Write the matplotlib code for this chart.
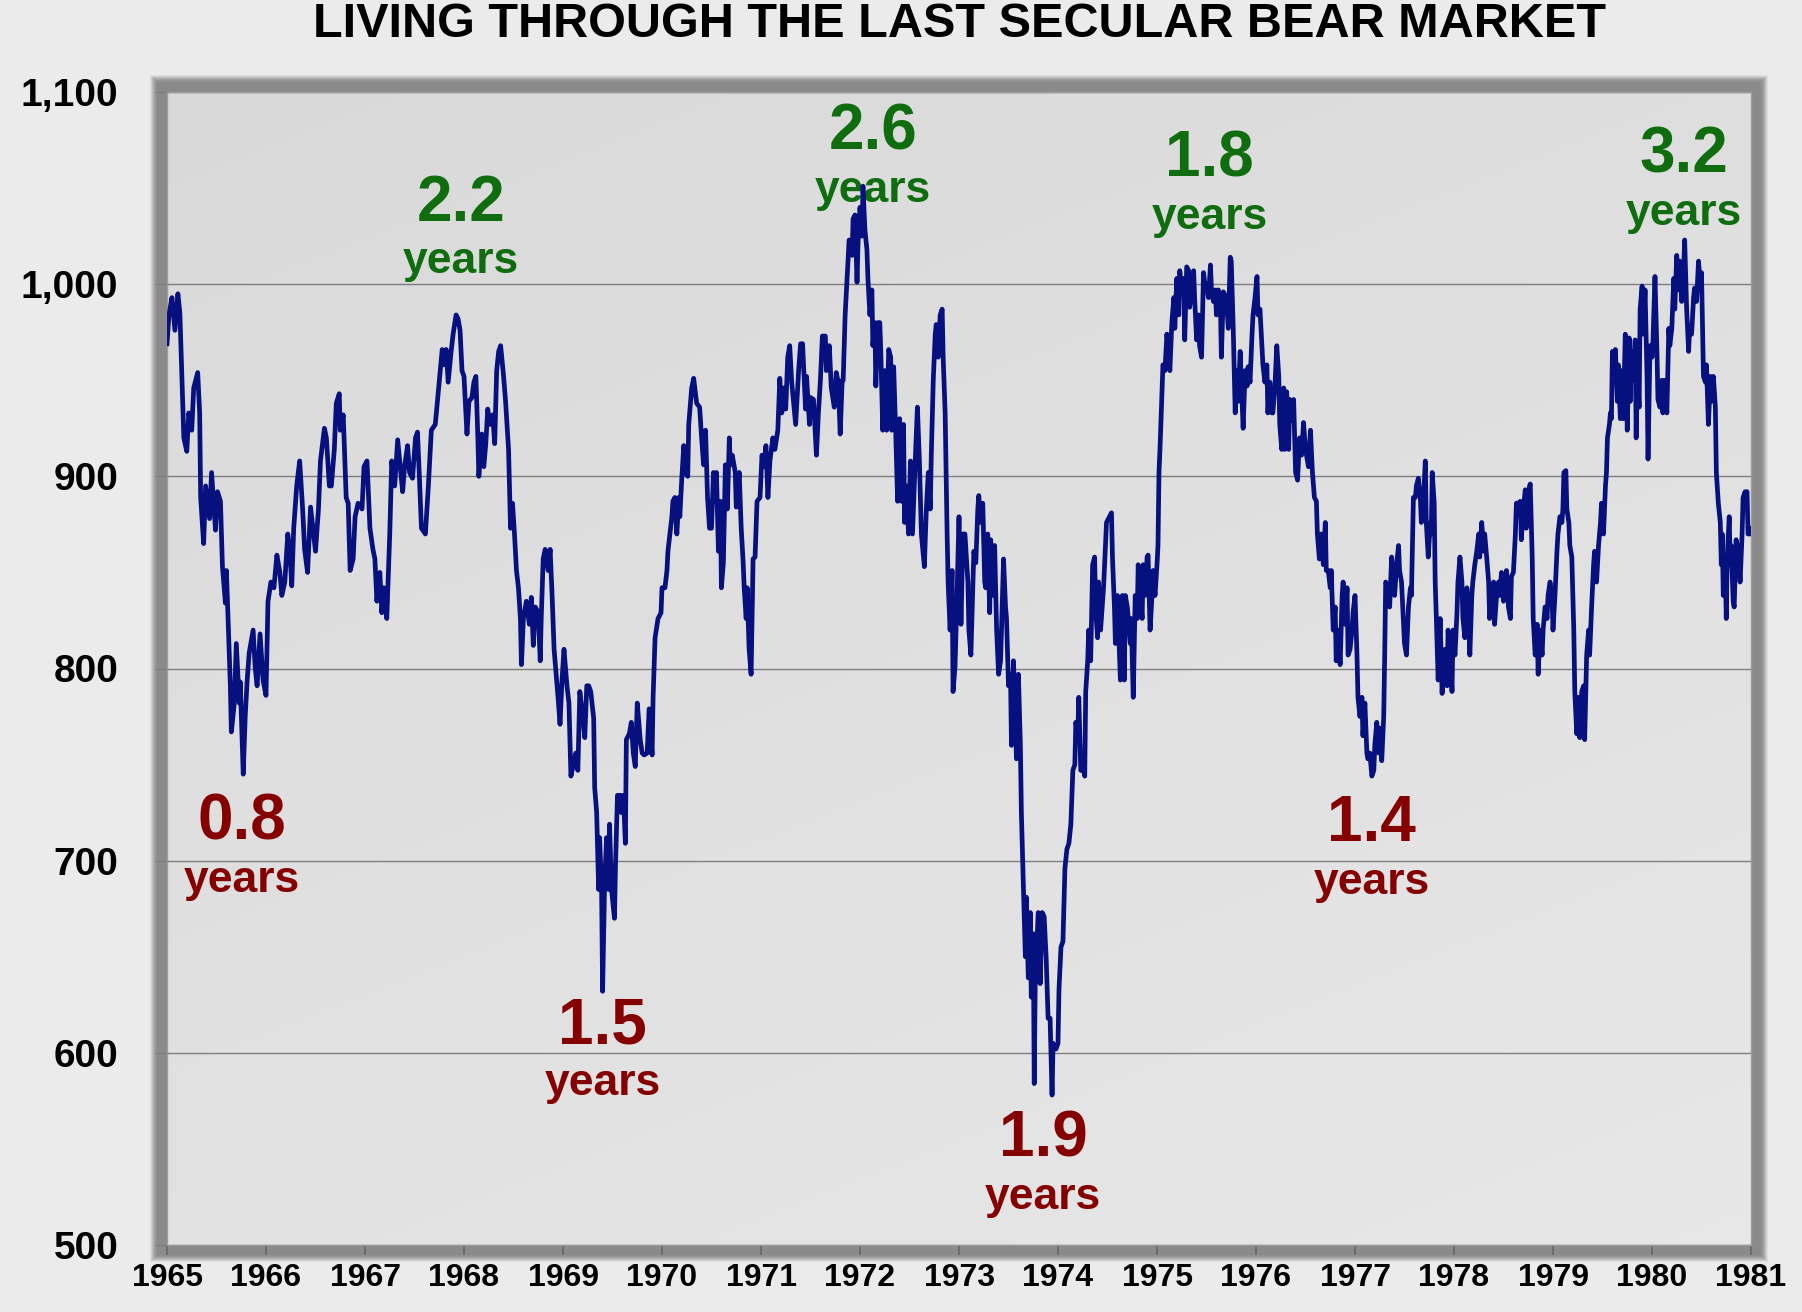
import matplotlib
matplotlib.use("Agg")
import matplotlib.pyplot as plt
import numpy as np
from matplotlib.patches import Rectangle
from matplotlib import font_manager
from matplotlib.ticker import FuncFormatter, FixedLocator

# ---------------- data ----------------
title = "LIVING THROUGH THE LAST SECULAR BEAR MARKET"
year_ticks = list(range(1965, 1982))
value_ticks = [500, 600, 700, 800, 900, 1000, 1100]

t_a = [1965.00, 1965.02, 1965.05, 1965.08, 1965.11, 1965.13, 1965.15, 1965.17, 1965.20, 1965.22,
       1965.25, 1965.27, 1965.31, 1965.33, 1965.34, 1965.37, 1965.39, 1965.43, 1965.45, 1965.49,
       1965.51, 1965.54, 1965.56, 1965.59, 1965.60, 1965.64, 1965.65, 1965.68, 1965.70, 1965.73,
       1965.74, 1965.77, 1965.79, 1965.81, 1965.83, 1965.87, 1965.89, 1965.91, 1965.94, 1965.97,
       1966.00, 1966.02, 1966.05, 1966.08, 1966.11, 1966.14, 1966.16, 1966.19, 1966.22, 1966.24,
       1966.26, 1966.28, 1966.31, 1966.34, 1966.37, 1966.39, 1966.42, 1966.45, 1966.47, 1966.50,
       1966.53, 1966.55, 1966.59, 1966.61, 1966.64, 1966.66, 1966.69, 1966.71, 1966.74, 1966.75,
       1966.78, 1966.81, 1966.83, 1966.85, 1966.88, 1966.90, 1966.93, 1966.97, 1966.99, 1967.02,
       1967.05, 1967.08, 1967.10, 1967.12, 1967.15, 1967.17, 1967.19, 1967.22, 1967.25, 1967.27,
       1967.30, 1967.33, 1967.35, 1967.38, 1967.40, 1967.43, 1967.45, 1967.48, 1967.51, 1967.53,
       1967.55, 1967.57, 1967.61]
v_a = [969, 984, 993, 976, 995, 985, 952, 920, 913, 933,
       924, 946, 954, 933, 889, 865, 895, 878, 902, 872,
       892, 887, 853, 834, 851, 791, 767, 782, 813, 782,
       793, 745, 775, 794, 808, 820, 801, 791, 818, 794,
       786, 835, 845, 842, 859, 850, 838, 845, 870, 862,
       843, 873, 895, 908, 883, 862, 850, 884, 875, 861,
       883, 908, 925, 920, 895, 895, 914, 938, 943, 924,
       932, 889, 886, 851, 857, 879, 886, 883, 905, 908,
       873, 862, 857, 835, 850, 829, 842, 826, 870, 908,
       895, 919, 908, 892, 905, 916, 902, 899, 920, 923,
       899, 873, 870]

t_b = [1967.64, 1967.67, 1967.71, 1967.73, 1967.76, 1967.78, 1967.80, 1967.82, 1967.84, 1967.87,
       1967.89, 1967.92, 1967.94, 1967.96, 1967.98, 1968.00, 1968.03, 1968.05, 1968.08, 1968.10,
       1968.12, 1968.14, 1968.15, 1968.18, 1968.20, 1968.22, 1968.24, 1968.26, 1968.29, 1968.31,
       1968.33, 1968.35, 1968.37, 1968.40, 1968.42, 1968.45, 1968.46, 1968.47, 1968.49, 1968.51,
       1968.53, 1968.55, 1968.57, 1968.58, 1968.60, 1968.63, 1968.66, 1968.68, 1968.70, 1968.72,
       1968.75, 1968.77, 1968.78, 1968.80, 1968.82, 1968.85, 1968.87, 1968.89, 1968.91, 1968.94,
       1968.95, 1968.97, 1968.99, 1969.01, 1969.04, 1969.06, 1969.08, 1969.10, 1969.13, 1969.15,
       1969.17, 1969.20, 1969.22, 1969.24, 1969.26, 1969.28, 1969.31, 1969.32, 1969.34, 1969.36,
       1969.37, 1969.39, 1969.40, 1969.42, 1969.44, 1969.46, 1969.47, 1969.49, 1969.52, 1969.53,
       1969.55, 1969.58, 1969.59, 1969.61, 1969.63, 1969.64, 1969.67, 1969.69, 1969.71, 1969.73,
       1969.75, 1969.78, 1969.80, 1969.82, 1969.85, 1969.87, 1969.90, 1969.91, 1969.93, 1969.96,
       1969.99, 1970.00, 1970.03, 1970.05, 1970.06, 1970.08, 1970.10, 1970.11, 1970.13, 1970.15,
       1970.17, 1970.18, 1970.20, 1970.22, 1970.23, 1970.26, 1970.27]
v_b = [895, 924, 927, 938, 955, 966, 958, 966, 949, 965,
       974, 984, 982, 976, 955, 952, 922, 939, 941, 949,
       952, 920, 900, 922, 905, 917, 935, 927, 932, 917,
       955, 965, 968, 952, 939, 914, 894, 873, 886, 870,
       851, 842, 826, 802, 826, 835, 823, 837, 812, 832,
       829, 804, 826, 857, 862, 851, 862, 838, 810, 791,
       785, 771, 794, 810, 791, 782, 744, 749, 756, 747,
       788, 775, 764, 791, 791, 788, 774, 738, 725, 685,
       712, 684, 632, 687, 712, 685, 719, 685, 670, 697,
       734, 734, 725, 734, 709, 763, 766, 772, 756, 749,
       782, 763, 756, 755, 756, 779, 755, 785, 816, 826,
       829, 842, 842, 851, 861, 870, 879, 887, 889, 870,
       889, 879, 899, 916, 902, 900, 927]

t_c = [1970.30, 1970.32, 1970.35, 1970.38, 1970.40, 1970.42, 1970.44, 1970.46, 1970.48, 1970.50,
       1970.52, 1970.54, 1970.55, 1970.57, 1970.59, 1970.60, 1970.62, 1970.64, 1970.66, 1970.68,
       1970.69, 1970.71, 1970.74, 1970.75, 1970.78, 1970.80, 1970.82, 1970.83, 1970.85, 1970.86,
       1970.88, 1970.90, 1970.92, 1970.94, 1970.96, 1970.99, 1971.01, 1971.03, 1971.05, 1971.07,
       1971.09, 1971.12, 1971.14, 1971.17, 1971.19, 1971.21, 1971.23, 1971.25, 1971.27, 1971.29,
       1971.31, 1971.33, 1971.35, 1971.38, 1971.40, 1971.42, 1971.45, 1971.46, 1971.49, 1971.50,
       1971.53, 1971.56, 1971.58, 1971.60, 1971.62, 1971.65, 1971.66, 1971.69, 1971.71, 1971.74,
       1971.76, 1971.78, 1971.80, 1971.82, 1971.83, 1971.85, 1971.87, 1971.89, 1971.92, 1971.93,
       1971.95, 1971.97, 1971.98, 1972.00, 1972.02, 1972.03, 1972.05, 1972.07, 1972.08, 1972.10,
       1972.12, 1972.13, 1972.15, 1972.16, 1972.18, 1972.20, 1972.21, 1972.23, 1972.25, 1972.27,
       1972.29, 1972.31, 1972.32, 1972.34, 1972.36, 1972.38, 1972.40, 1972.42, 1972.44, 1972.45,
       1972.47, 1972.49, 1972.51, 1972.53, 1972.56, 1972.58, 1972.60, 1972.62, 1972.65, 1972.67,
       1972.69, 1972.71, 1972.72, 1972.74, 1972.76, 1972.77, 1972.79, 1972.81, 1972.83, 1972.84,
       1972.86, 1972.88, 1972.89, 1972.91, 1972.93, 1972.94]
v_c = [946, 951, 938, 936, 920, 906, 924, 889, 873, 873,
       902, 887, 902, 861, 887, 842, 855, 906, 883, 920,
       906, 911, 902, 884, 902, 873, 855, 842, 826, 842,
       810, 797, 857, 858, 887, 889, 911, 905, 916, 889,
       908, 920, 914, 924, 951, 933, 946, 935, 962, 968,
       949, 938, 927, 955, 969, 969, 935, 952, 927, 941,
       940, 911, 933, 950, 973, 973, 955, 968, 946, 936,
       954, 949, 922, 950, 950, 984, 1003, 1023, 1015, 1034,
       1036, 1001, 1021, 1040, 1025, 1051, 1028, 1018, 1003, 984,
       997, 968, 980, 947, 980, 980, 965, 924, 955, 924,
       966, 962, 924, 957, 924, 887, 930, 887, 927, 876,
       895, 870, 908, 870, 911, 936, 908, 870, 853, 883,
       902, 883, 911, 950, 974, 979, 962, 984, 987, 962,
       933, 870, 845, 820, 851, 788]

t_d = [1972.96, 1972.98, 1973.00, 1973.02, 1973.04, 1973.06, 1973.09, 1973.10, 1973.12, 1973.15,
       1973.17, 1973.19, 1973.20, 1973.22, 1973.24, 1973.26, 1973.27, 1973.29, 1973.31, 1973.32,
       1973.35, 1973.36, 1973.38, 1973.40, 1973.42, 1973.45, 1973.47, 1973.48, 1973.50, 1973.52,
       1973.53, 1973.55, 1973.57, 1973.58, 1973.60, 1973.62, 1973.63, 1973.65, 1973.67, 1973.68,
       1973.70, 1973.72, 1973.73, 1973.75, 1973.76, 1973.77, 1973.80, 1973.82, 1973.84, 1973.86,
       1973.88, 1973.90, 1973.92, 1973.94, 1973.95, 1973.98, 1974.00, 1974.01, 1974.03, 1974.05,
       1974.07, 1974.09, 1974.11, 1974.13, 1974.15, 1974.17, 1974.18, 1974.20, 1974.21, 1974.23,
       1974.26, 1974.27, 1974.28, 1974.30, 1974.31, 1974.33, 1974.35, 1974.37, 1974.38, 1974.40,
       1974.41, 1974.43, 1974.46, 1974.48, 1974.49, 1974.52, 1974.54, 1974.55, 1974.57, 1974.58,
       1974.60, 1974.63, 1974.65, 1974.67, 1974.68, 1974.70, 1974.73, 1974.74, 1974.76, 1974.78,
       1974.80, 1974.81, 1974.83, 1974.85, 1974.86, 1974.88, 1974.90, 1974.91, 1974.93, 1974.95,
       1974.96, 1974.98, 1975.00, 1975.01, 1975.02, 1975.03, 1975.05, 1975.06, 1975.08, 1975.10,
       1975.11, 1975.13, 1975.15, 1975.17, 1975.18, 1975.20, 1975.22, 1975.23, 1975.25, 1975.27,
       1975.28, 1975.30, 1975.32, 1975.33, 1975.35, 1975.37, 1975.38, 1975.40, 1975.42, 1975.43,
       1975.45, 1975.47, 1975.49, 1975.50, 1975.52, 1975.54, 1975.55, 1975.57, 1975.59, 1975.60,
       1975.62, 1975.64]
v_d = [801, 838, 879, 823, 870, 870, 845, 820, 807, 861,
       855, 883, 890, 876, 886, 845, 842, 870, 829, 867,
       838, 864, 820, 797, 804, 857, 832, 826, 791, 797,
       760, 804, 775, 753, 797, 760, 725, 688, 650, 681,
       639, 673, 629, 662, 584, 636, 673, 636, 673, 671,
       650, 618, 618, 578, 605, 602, 605, 633, 655, 658,
       696, 706, 709, 719, 747, 750, 772, 765, 785, 747,
       747, 744, 788, 804, 820, 804, 854, 858, 830, 816,
       845, 820, 842, 864, 876, 879, 881, 858, 832, 813,
       838, 794, 838, 794, 838, 832, 813, 826, 785, 838,
       826, 854, 838, 826, 854, 838, 858, 859, 820, 838,
       851, 838, 854, 864, 902, 914, 943, 958, 955, 974,
       968, 955, 980, 993, 977, 1003, 984, 1007, 997, 1003,
       971, 1009, 1007, 988, 997, 1007, 993, 971, 984, 968,
       962, 1006, 997, 1000, 993, 1010, 997, 991, 997, 984,
       997, 991]

t_e = [1975.65, 1975.67, 1975.70, 1975.72, 1975.74, 1975.75, 1975.77, 1975.79, 1975.80, 1975.82,
       1975.84, 1975.86, 1975.87, 1975.89, 1975.91, 1975.92, 1975.94, 1975.96, 1975.97, 1975.99,
       1976.01, 1976.02, 1976.04, 1976.06, 1976.07, 1976.09, 1976.11, 1976.12, 1976.14, 1976.16,
       1976.17, 1976.19, 1976.21, 1976.23, 1976.24, 1976.26, 1976.28, 1976.29, 1976.31, 1976.33,
       1976.34, 1976.36, 1976.38, 1976.40, 1976.42, 1976.44, 1976.46, 1976.48, 1976.50, 1976.53,
       1976.55, 1976.57, 1976.59, 1976.61, 1976.62, 1976.64, 1976.66, 1976.68, 1976.70, 1976.71,
       1976.73, 1976.75, 1976.76, 1976.78, 1976.80, 1976.81, 1976.83, 1976.85, 1976.87, 1976.88,
       1976.90, 1976.92, 1976.93, 1976.95, 1976.97, 1976.98, 1977.00, 1977.02, 1977.03, 1977.05,
       1977.07, 1977.08, 1977.10, 1977.12, 1977.13, 1977.15, 1977.17, 1977.19, 1977.20, 1977.22,
       1977.24, 1977.25, 1977.27, 1977.29, 1977.30, 1977.31, 1977.34, 1977.35, 1977.37, 1977.39,
       1977.40, 1977.42, 1977.44, 1977.45, 1977.47, 1977.49, 1977.50, 1977.52, 1977.54, 1977.56,
       1977.57, 1977.59, 1977.61, 1977.62, 1977.64, 1977.66, 1977.67, 1977.69, 1977.71, 1977.72,
       1977.74, 1977.76, 1977.77, 1977.78, 1977.80, 1977.81, 1977.82, 1977.84, 1977.86, 1977.88,
       1977.89, 1977.91, 1977.93, 1977.94, 1977.96, 1977.98, 1977.99, 1978.01, 1978.03, 1978.04,
       1978.06, 1978.08, 1978.09, 1978.11, 1978.13, 1978.14, 1978.16, 1978.18, 1978.19, 1978.21,
       1978.23, 1978.25, 1978.26, 1978.28, 1978.30, 1978.31, 1978.33]
v_e = [962, 996, 993, 977, 1014, 1012, 977, 933, 955, 939,
       965, 939, 925, 955, 947, 957, 949, 974, 984, 993,
       1004, 984, 987, 968, 958, 949, 958, 933, 949, 933,
       933, 946, 968, 952, 927, 914, 946, 914, 944, 914,
       940, 929, 940, 902, 898, 920, 911, 928, 914, 905,
       924, 902, 889, 887, 870, 857, 870, 854, 876, 851,
       851, 842, 851, 820, 832, 804, 820, 802, 838, 845,
       823, 842, 807, 810, 820, 829, 838, 807, 785, 775,
       785, 765, 782, 756, 753, 756, 744, 747, 760, 772,
       756, 769, 752, 775, 807, 845, 842, 832, 858, 845,
       838, 854, 864, 851, 845, 823, 813, 807, 832, 842,
       838, 889, 889, 895, 899, 889, 876, 886, 908, 876,
       858, 876, 870, 902, 886, 845, 829, 794, 826, 787,
       801, 810, 791, 820, 807, 788, 820, 807, 829, 845,
       858, 845, 826, 816, 842, 835, 807, 838, 845, 854,
       861, 870, 858, 876, 861, 870, 858]

t_f = [1978.35, 1978.36, 1978.38, 1978.40, 1978.41, 1978.43, 1978.45, 1978.46, 1978.48, 1978.50,
       1978.52, 1978.53, 1978.55, 1978.57, 1978.58, 1978.60, 1978.62, 1978.63, 1978.65, 1978.67,
       1978.68, 1978.70, 1978.72, 1978.73, 1978.75, 1978.77, 1978.79, 1978.80, 1978.82, 1978.84,
       1978.85, 1978.87, 1978.89, 1978.90, 1978.92, 1978.94, 1978.95, 1978.97, 1978.99, 1979.00,
       1979.02, 1979.04, 1979.05, 1979.07, 1979.09, 1979.10, 1979.11, 1979.13, 1979.14, 1979.16,
       1979.17, 1979.19, 1979.21, 1979.22, 1979.24, 1979.26, 1979.27, 1979.29, 1979.31, 1979.32,
       1979.34, 1979.36, 1979.37, 1979.39, 1979.41, 1979.42, 1979.44, 1979.46, 1979.48, 1979.49,
       1979.51, 1979.53, 1979.54, 1979.55, 1979.57, 1979.58, 1979.59, 1979.60, 1979.62, 1979.63,
       1979.65, 1979.66, 1979.68, 1979.69, 1979.71, 1979.73, 1979.74, 1979.75, 1979.77, 1979.78,
       1979.79, 1979.81, 1979.83, 1979.84, 1979.85, 1979.87, 1979.88, 1979.90, 1979.91, 1979.93,
       1979.95, 1979.96, 1979.97, 1979.98, 1980.00, 1980.01, 1980.03, 1980.05, 1980.06, 1980.08,
       1980.10, 1980.11, 1980.13, 1980.15, 1980.17, 1980.18, 1980.20, 1980.22, 1980.23, 1980.25,
       1980.27, 1980.28, 1980.30, 1980.32, 1980.33, 1980.35, 1980.37, 1980.38, 1980.40, 1980.42,
       1980.43, 1980.45, 1980.47, 1980.49, 1980.50, 1980.52, 1980.54, 1980.55, 1980.57, 1980.59,
       1980.60, 1980.62, 1980.64, 1980.65, 1980.67, 1980.69, 1980.70, 1980.71, 1980.72, 1980.74,
       1980.75, 1980.76, 1980.78, 1980.79, 1980.80, 1980.82, 1980.83, 1980.85, 1980.86, 1980.87,
       1980.89, 1980.91, 1980.92, 1980.94, 1980.96, 1980.97, 1980.99, 1981.00]
v_f = [845, 826, 838, 845, 823, 838, 845, 838, 850, 835,
       838, 851, 832, 826, 848, 850, 870, 886, 886, 887,
       867, 883, 893, 873, 892, 896, 858, 826, 807, 823,
       797, 820, 807, 820, 832, 826, 838, 845, 838, 820,
       838, 861, 870, 879, 876, 883, 902, 903, 883, 876,
       864, 858, 820, 788, 766, 785, 764, 788, 791, 763,
       807, 820, 807, 832, 854, 861, 845, 864, 876, 886,
       870, 895, 902, 920, 927, 933, 930, 965, 952, 966,
       939, 958, 930, 955, 930, 974, 955, 924, 972, 939,
       965, 950, 971, 920, 958, 936, 987, 999, 974, 997,
       952, 909, 940, 968, 962, 971, 1004, 965, 940, 936,
       950, 933, 950, 933, 977, 968, 977, 1003, 987, 1015,
       997, 1012, 991, 1009, 1023, 987, 965, 977, 974, 993,
       998, 991, 1012, 997, 1006, 952, 949, 958, 927, 952,
       939, 952, 936, 902, 886, 876, 854, 870, 838, 854,
       826, 858, 879, 854, 864, 835, 832, 867, 854, 864,
       845, 870, 889, 892, 892, 870, 870, 873]

rally_labels = ["2.2", "2.6", "1.8", "3.2"]
decline_labels = ["0.8", "1.5", "1.9", "1.4"]
unit_label = "years"

# ---------------- layout / style ----------------
rally_pos = [(1967.97, 1033), (1972.13, 1070), (1975.53, 1056), (1980.32, 1058)]
decline_pos = [(1965.76, 711), (1969.40, 605), (1973.85, 546), (1977.17, 710)]

W, H = 1802, 1312
BG = "#ebebeb"
GREEN = "#0f6d0f"
RED = "#850000"
LINE = "#07107f"

names = {f.name for f in font_manager.fontManager.ttflist}
BASE = "Liberation Sans" if "Liberation Sans" in names else "DejaVu Sans"
if "Liberation Sans Narrow" in names:
    YEARS_FONT, YEARS_SIZE = "Liberation Sans Narrow", 38
else:
    YEARS_FONT, YEARS_SIZE = BASE, 32

fig = plt.figure(figsize=(W / 100, H / 100), dpi=100, facecolor=BG)
left, right, top, bottom = 167, 1751, 92, 1245
ax = fig.add_axes([left / W, 1 - bottom / H, (right - left) / W, (bottom - top) / H])

# shadow frame around the plot area
def frame_rect(ext, color, alpha, z):
    r = Rectangle(((left - ext) / W, 1 - (bottom + ext) / H),
                  (right - left + 2 * ext) / W, (bottom - top + 2 * ext) / H,
                  transform=fig.transFigure, facecolor=color, edgecolor="none",
                  alpha=alpha, zorder=z)
    fig.add_artist(r)

for i, ext in enumerate([17, 16, 15, 14, 13, 12, 11, 10]):
    frame_rect(ext, "#8a8a8a", 0.12 + 0.06 * i, -10 + i * 0.01)
frame_rect(9, "#8a8a8a", 1.0, -9)
ax.set_zorder(1)

# gradient plot background
gx, gy = np.meshgrid(np.linspace(0, 1, 300), np.linspace(0, 1, 300))
grad = 0.852 + 0.055 * (0.35 * gx + 0.65 * gy)
ax.imshow(np.dstack([grad, grad, grad]), extent=[0, 1, 0, 1], origin="upper",
          transform=ax.transAxes, aspect="auto", zorder=0, interpolation="bilinear")

t_all = np.concatenate([t_a, t_b, t_c, t_d, t_e, t_f])
v_all = np.concatenate([v_a, v_b, v_c, v_d, v_e, v_f])
ax.plot(t_all, v_all, color=LINE, lw=3.4, solid_joinstyle="round", zorder=4)

ax.set_xlim(year_ticks[0], year_ticks[-1])
ax.set_ylim(value_ticks[0], value_ticks[-1])
ax.xaxis.set_major_locator(FixedLocator(year_ticks))
ax.yaxis.set_major_locator(FixedLocator(value_ticks))
ax.set_xticklabels([str(y) for y in year_ticks])
ax.yaxis.set_major_formatter(FuncFormatter(lambda v, p: f"{int(v):,}"))

ax.grid(axis="y", color="#7d7d7d", lw=1.0, zorder=1)
ax.set_axisbelow(True)
for s in ax.spines.values():
    s.set_color("#9c9c9c")
    s.set_linewidth(1.0)

ax.tick_params(axis="y", direction="out", length=8.6, width=1.0, color="#7d7d7d",
               pad=26.5, labelsize=28)
ax.tick_params(axis="x", direction="out", length=7.2, width=1.1, color="#626262",
               pad=5.5, labelsize=23)
for lab in ax.get_xticklabels() + ax.get_yticklabels():
    lab.set_fontfamily(BASE)
    lab.set_fontweight("bold")
    lab.set_color("black")

def add_label(num, pos, color):
    ax.text(pos[0], pos[1], num, color=color, fontsize=46, fontweight="bold",
            family=BASE, ha="center", va="baseline", zorder=3)
    ax.annotate(unit_label, xy=pos, xytext=(0, -37.5), textcoords="offset points",
                color=color, fontsize=YEARS_SIZE, fontweight="bold", family=YEARS_FONT,
                ha="center", va="baseline", zorder=3, annotation_clip=False)

for lab, pos in zip(rally_labels, rally_pos):
    add_label(lab, pos, GREEN)
for lab, pos in zip(decline_labels, decline_pos):
    add_label(lab, pos, RED)

fig.text((left + right) / 2 / W, 1 - 37 / H, title, ha="center", va="baseline",
         fontsize=35, fontweight="bold", family=BASE, color="black")

fig.savefig("out.png", dpi=100, facecolor=BG)
